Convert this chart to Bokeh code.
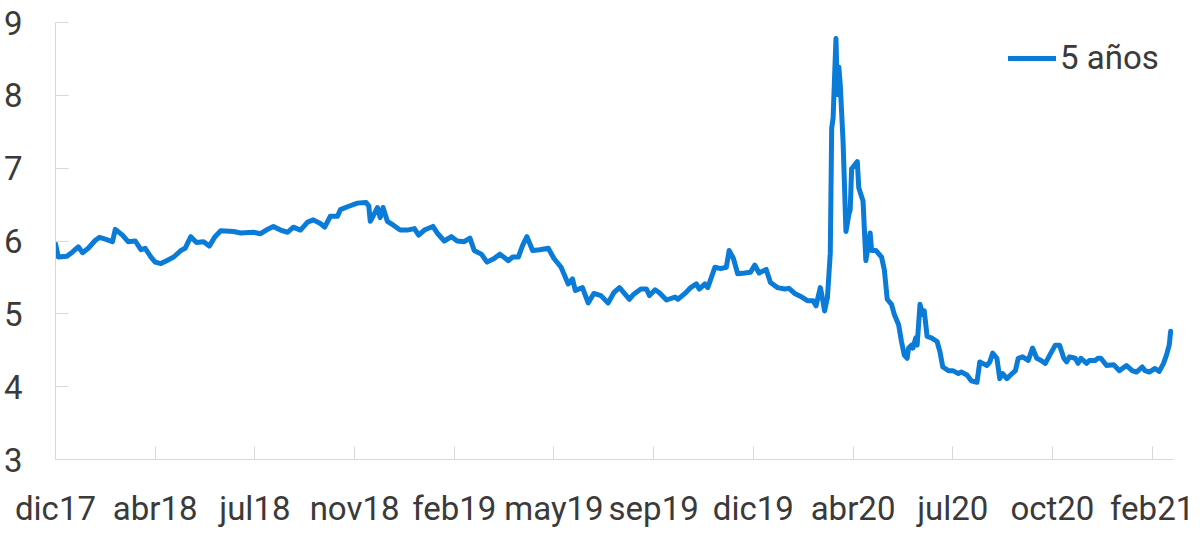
from bokeh.plotting import figure
from bokeh.models import FixedTicker, Range1d, Legend, LegendItem
from bokeh.embed import file_html
from bokeh.resources import INLINE

# observation index (trading days) and 5-year rate
obs = [0, 2, 8, 12, 16, 19, 23, 28, 31, 36, 40, 42, 47, 51, 56, 60, 63, 67, 70, 74,
       78, 83, 88, 91, 95, 99, 104, 108, 112, 116, 125, 130, 139, 144, 148, 153, 158, 163, 167, 172,
       177, 181, 186, 189, 193, 198, 200, 205, 212, 218, 220, 221, 223, 226, 228, 230, 233, 237, 242,
       247, 252, 255, 259, 265, 268, 273, 278, 282, 287, 291, 294, 299, 303, 308, 312, 318, 321, 325,
       328, 331, 335, 340, 346, 350, 355, 360, 363, 365, 370, 374, 378, 383, 388, 392, 396, 399, 403,
       406, 411, 415, 417, 421, 424, 429, 435, 437, 442, 446, 450, 452, 456, 458, 463, 467, 471, 473,
       476, 479, 484, 488, 491, 494, 499, 502, 507, 512, 515, 519, 524,
       528, 532, 534, 537, 538, 540, 542, 544, 545, 546, 548, 549, 550, 551, 553, 555, 557, 558, 559,
       561, 563, 564, 567, 569, 572, 573, 576, 580, 582, 584, 587, 589, 592, 594, 596, 598, 599, 601,
       602, 604, 605, 607, 609, 610, 612, 615, 619, 621, 623, 627, 630, 634, 636, 640, 643, 647, 649,
       651, 654, 656, 658, 661, 663, 665, 668, 670, 674, 676, 679, 683, 686, 689, 692, 695, 698, 702,
       705, 708, 710, 712, 716, 718, 720, 724, 726, 730, 732, 734, 738, 743, 747, 752, 756, 759, 763,
       765, 768, 772, 775, 778, 780, 782, 783]
rate = [5.96, 5.78, 5.79, 5.85, 5.92, 5.84, 5.90, 6.01, 6.05, 6.02, 5.99, 6.16, 6.08, 5.99, 6.00, 5.88, 5.90, 5.78, 5.71, 5.69,
        5.73, 5.78, 5.87, 5.90, 6.06, 5.98, 5.99, 5.93, 6.06, 6.14, 6.13, 6.11, 6.12, 6.10, 6.15, 6.20, 6.15, 6.12, 6.19, 6.15,
        6.26, 6.29, 6.24, 6.19, 6.34, 6.34, 6.43, 6.47, 6.52, 6.53, 6.48, 6.27, 6.34, 6.46, 6.32, 6.46, 6.27, 6.22, 6.15,
        6.15, 6.17, 6.08, 6.15, 6.20, 6.11, 6.00, 6.06, 6.00, 5.99, 6.04, 5.87, 5.82, 5.71, 5.76, 5.82, 5.73, 5.78, 5.78,
        5.94, 6.06, 5.87, 5.88, 5.90, 5.76, 5.64, 5.41, 5.48, 5.32, 5.36, 5.15, 5.28, 5.25, 5.15, 5.29, 5.36, 5.29, 5.20,
        5.27, 5.34, 5.34, 5.25, 5.33, 5.29, 5.19, 5.23, 5.20, 5.28, 5.36, 5.41, 5.34, 5.41, 5.36, 5.64, 5.62, 5.64, 5.87,
        5.76, 5.55, 5.56, 5.57, 5.67, 5.56, 5.61, 5.43, 5.36, 5.34, 5.35, 5.28, 5.23,
        5.18, 5.18, 5.11, 5.36, 5.27, 5.04, 5.22, 5.83, 7.55, 7.69, 8.78, 8.01, 8.39, 8.15, 7.36, 6.13, 6.36, 6.43, 6.99,
        7.04, 7.09, 6.73, 6.55, 5.73, 6.11, 5.87, 5.87, 5.78, 5.60, 5.20, 5.13, 4.99, 4.85, 4.62, 4.43, 4.39, 4.53, 4.57,
        4.53, 4.67, 4.57, 5.13, 4.99, 5.04, 4.69, 4.67, 4.62, 4.48, 4.27, 4.22, 4.22, 4.18, 4.20, 4.16, 4.08, 4.06, 4.34,
        4.32, 4.29, 4.34, 4.46, 4.39, 4.11, 4.18, 4.11, 4.15, 4.22, 4.39, 4.41, 4.36, 4.53, 4.39, 4.36, 4.32, 4.43, 4.57,
        4.57, 4.39, 4.34, 4.41, 4.39, 4.32, 4.39, 4.32, 4.36, 4.36, 4.39, 4.39, 4.29, 4.30, 4.22, 4.29, 4.22, 4.20, 4.27,
        4.22, 4.20, 4.25, 4.21, 4.32, 4.43, 4.57, 4.76]

tick_obs = [0, 70, 140, 210, 280, 350, 420, 490, 560, 630, 700, 770]
tick_labels = ["dic17", "abr18", "jul18", "nov18", "feb19", "may19", "sep19",
               "dic19", "abr20", "jul20", "oct20", "feb21"]
y_ticks = [3, 4, 5, 6, 7, 8, 9]
series_name = "5 años"

LINE = "#0a7bd6"
TXT = "#3a3a3a"
AX = "#d9d9d9"
FONT = "Roboto"

p = figure(width=1196, height=530, output_backend="svg", toolbar_location=None,
           x_range=Range1d(0, 785), y_range=Range1d(3, 9),
           min_border_left=55, min_border_right=23, min_border_top=22, min_border_bottom=65)
p.outline_line_color = None
p.xgrid.visible = False
p.ygrid.visible = False

r = p.line(obs, rate, line_color=LINE, line_width=5, line_join="round", line_cap="round")

for ax in (p.xaxis[0], p.yaxis[0]):
    ax.axis_line_color = AX
    ax.axis_line_width = 1
    ax.major_tick_line_color = AX
    ax.major_tick_in = 13
    ax.major_tick_out = 0
    ax.minor_tick_line_color = None
    ax.major_label_text_font = FONT
    ax.major_label_text_font_size = "33px"
    ax.major_label_text_color = TXT

p.xaxis[0].ticker = FixedTicker(ticks=tick_obs)
p.xaxis[0].major_label_overrides = {t: l for t, l in zip(tick_obs, tick_labels)}
p.xaxis[0].major_label_standoff = 29
p.yaxis[0].ticker = FixedTicker(ticks=y_ticks)
p.yaxis[0].major_label_standoff = 33

legend = Legend(items=[LegendItem(label=series_name, renderers=[r])],
                location=(953, 382), orientation="vertical")
legend.border_line_color = None
legend.background_fill_alpha = 0
legend.padding = 0
legend.margin = 0
legend.spacing = 0
legend.glyph_width = 48
legend.glyph_height = 30
legend.label_standoff = 4
legend.label_text_font = FONT
legend.label_text_font_size = "33px"
legend.label_text_color = TXT
p.add_layout(legend, "center")

open("out.html", "w").write(file_html(p, INLINE))
